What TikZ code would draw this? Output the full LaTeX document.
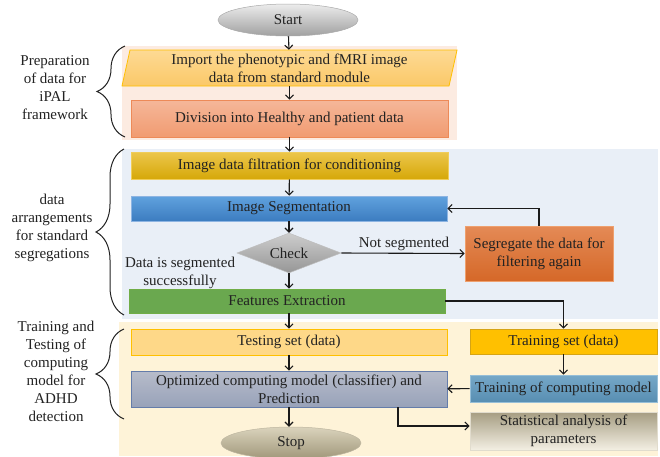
\documentclass[tikz,border=0pt]{standalone}
\usepackage{fontspec}
\setmainfont{Liberation Serif}
\usetikzlibrary{shapes.geometric,arrows.meta,decorations.pathreplacing}
\definecolor{txt}{HTML}{222222}
\definecolor{ln}{HTML}{1A1A1A}
\begin{document}
\begin{tikzpicture}[x=1pt,y=-1pt,
  every node/.style={font=\fontsize{15}{18}\selectfont, text=txt, inner sep=2pt, align=center},
  box/.style={rectangle, minimum width=#1, line width=0.8pt},
  arr/.style={draw=ln, line width=1.1pt, -{Straight Barb[length=4pt,width=8pt]}},
  ln/.style={draw=ln, line width=1.1pt},
  brc/.style={draw=txt, line width=1pt, decorate, decoration={brace, amplitude=28pt}},
  lbl/.style={font=\fontsize{15}{18}\selectfont, align=center}
]
\clip (0,0) rectangle (660,456);
\fill[white] (0,0) rectangle (660,456);
% background regions
\fill[fill={rgb,255:red,252;green,235;blue,225}] (122,46) rectangle (457,140);
\fill[fill={rgb,255:red,233;green,239;blue,247}] (122,149) rectangle (658,319);
\fill[fill={rgb,255:red,254;green,243;blue,216}] (119,322) rectangle (658,456);

% nodes
\node[ellipse, minimum width=140, minimum height=32, inner sep=0, top color={rgb,255:red,236;green,236;blue,236}, bottom color={rgb,255:red,160;green,160;blue,160}, draw={rgb,255:red,170;green,170;blue,170}, line width=0.5pt] (start) at (288,20) {Start};

\path[top color={rgb,255:red,253;green,218;blue,148}, bottom color={rgb,255:red,251;green,200;blue,104}, draw={rgb,255:red,255;green,192;blue,0}, line width=0.8pt] (122,86) -- (130,50) -- (457,50) -- (449,86) -- cycle;
\node[minimum width=319, minimum height=36, inner sep=0] (import) at (289.5,68) {Import the phenotypic and fMRI image\\data from standard module};

\node[box=317, minimum height=37, top color={rgb,255:red,245;green,183;blue,153}, bottom color={rgb,255:red,241;green,155;blue,113}, draw={rgb,255:red,237;green,138;blue,88}] (div) at (289.5,118.5) {Division into Healthy and patient data};

\node[box=317, minimum height=27, top color={rgb,255:red,236;green,198;blue,76}, bottom color={rgb,255:red,214;green,168;blue,8}, draw={rgb,255:red,240;green,205;blue,90}] (filt) at (289.5,165.5) {Image data filtration for conditioning};

\node[box=316, minimum height=25, top color={rgb,255:red,96;green,162;blue,222}, bottom color={rgb,255:red,60;green,124;blue,192}, draw={rgb,255:red,141;green,180;blue,226}] (seg) at (289,208.5) {Image Segmentation};

\node[diamond, aspect=2.6, minimum width=104, minimum height=40, inner sep=0, top color={rgb,255:red,205;green,205;blue,205}, bottom color={rgb,255:red,150;green,150;blue,150}, draw={rgb,255:red,190;green,190;blue,190}, line width=0.5pt] (check) at (289,253) {Check};

\node[box=316, minimum height=24, fill={rgb,255:red,106;green,168;blue,79}, draw={rgb,255:red,112;green,173;blue,71}] (feat) at (287,301) {Features Extraction};

\node[box=148, minimum height=55, top color={rgb,255:red,228;green,138;blue,86}, bottom color={rgb,255:red,213;green,104;blue,40}, draw={rgb,255:red,238;green,160;blue,110}] (segr) at (539,253.5) {Segregate the data for\\filtering again};

\node[box=316, minimum height=26, fill={rgb,255:red,254;green,216;blue,136}, draw={rgb,255:red,255;green,192;blue,0}] (test) at (289,342) {Testing set (data)};

\node[box=187, minimum height=25, fill={rgb,255:red,255;green,192;blue,0}, draw={rgb,255:red,214;green,164;blue,20}] (trset) at (563.5,341.5) {Training set (data)};

\node[box=316, minimum height=36, top color={rgb,255:red,183;green,188;blue,202}, bottom color={rgb,255:red,152;green,162;blue,185}, draw={rgb,255:red,100;green,124;blue,170}] (opt) at (289,389) {Optimized computing model (classifier) and\\Prediction};

\node[box=187, minimum height=27, top color={rgb,255:red,118;green,168;blue,200}, bottom color={rgb,255:red,88;green,142;blue,178}, draw={rgb,255:red,150;green,190;blue,215}] (trcm) at (563.5,388.5) {Training of computing model};

\node[box=187, minimum height=38, top color={rgb,255:red,166;green,157;blue,130}, bottom color={rgb,255:red,243;green,239;blue,227}, draw={rgb,255:red,225;green,220;blue,205}] (stat) at (563.5,431) {Statistical analysis of\\parameters};

\node[ellipse, minimum width=140, minimum height=32, inner sep=0, top color={rgb,255:red,218;green,211;blue,188}, bottom color={rgb,255:red,160;green,151;blue,122}, draw={rgb,255:red,190;green,182;blue,160}, line width=0.5pt] (stop) at (291,443) {Stop};

% labels
\node (lyes) at (180,273) {Data is segmented\\successfully};
\node (lno) at (404,244) {Not segmented};

\node[lbl] (t1) at (55,88) {Preparation\\of data for\\iPAL\\framework};
\node[lbl] (t2) at (52,228) {data\\arrangements\\for standard\\segregations};
\node[lbl] (t3) at (56,371) {Training and\\Testing of\\computing\\model for\\ADHD\\detection};

% braces
\draw[brc] (125,137) -- (125,46);
\draw[brc] (124,315) -- (124,149);
\draw[brc] (124,419) -- (124,329);

% connectors
\draw[arr] (start) -- (import);
\draw[arr] (import) -- (div);
\draw[arr] (div.south) -- (filt.north);
\draw[arr] (filt) -- (seg);
\draw[arr] (seg) -- (check);
\draw[arr] (check.south) -- (check.south |- feat.north);
\draw[arr] (check.east) -- (segr.west);
\draw[arr] (segr.north) |- (seg.east);
\draw[arr] (feat.east) -| (trset.north);
\draw[arr] (feat.south -| test.north) -- (test.north);
\draw[arr] (test) -- (opt);
\draw[arr] (trset) -- (trcm);
\draw[arr] (trcm) -- (opt);
\draw[arr] (opt.south) -- (stop.north -| opt.south);
\draw[arr] ([xshift=109pt]opt.south) |- ([yshift=5pt]stat.west);
\end{tikzpicture}
\end{document}
